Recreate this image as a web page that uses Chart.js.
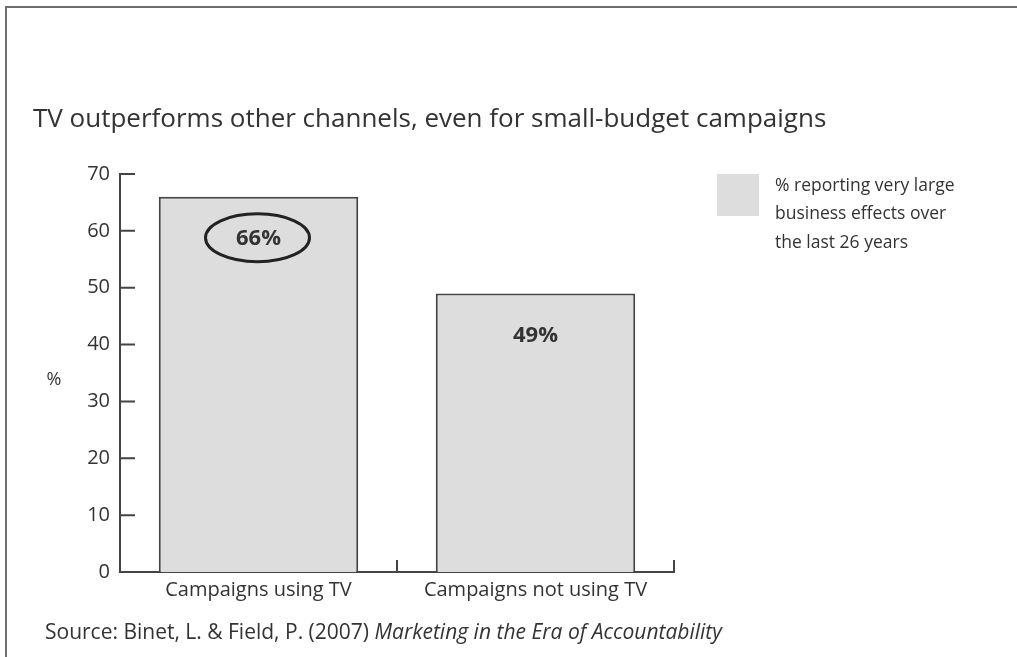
<!DOCTYPE html>
<html>
<head>
<meta charset="utf-8">
<script src="https://cdn.jsdelivr.net/npm/chart.js@4.4.0/dist/chart.umd.min.js"></script>
<style>
  html, body { margin: 0; padding: 0; background: #fff; }
  #wrap { width: 1017px; height: 657px; position: relative; }
</style>
</head>
<body>
<div id="wrap"><canvas id="tvChart" width="1017" height="657"></canvas></div>
<script>
const categories = ['Campaigns using TV', 'Campaigns not using TV'];
const values = [66, 49];
const seriesLabel = ['% reporting very large', 'business effects over', 'the last 26 years'];
const yMin = 0;
const yMax = 70;
const yStep = 10;
const titleText = 'TV outperforms other channels, even for small-budget campaigns';
const sourceText = 'Source: Binet, L. & Field, P. (2007) ';
const sourceBook = 'Marketing in the Era of Accountability';

const FONT = '"Open Sans", "Noto Sans", sans-serif';
const INK = '#333';
const BAR_FILL = '#dddddd';

// everything drawn on top of the bars: frame, title, ticks, labels, legend, source
const decorations = {
  id: 'decorations',
  afterDraw(chart) {
    const ctx = chart.ctx;
    const x = chart.scales.x;
    const y = chart.scales.y;
    ctx.save();

    // page frame
    ctx.strokeStyle = '#6e6e6e';
    ctx.lineWidth = 2;
    ctx.beginPath();
    ctx.moveTo(6, 660);
    ctx.lineTo(6, 7);
    ctx.lineTo(1020, 7);
    ctx.stroke();

    // title
    ctx.fillStyle = INK;
    ctx.font = '26px ' + FONT;
    ctx.textAlign = 'left';
    ctx.textBaseline = 'middle';
    ctx.fillText(titleText, 33, 120);

    // inward tick marks
    ctx.strokeStyle = '#444';
    ctx.lineWidth = 2;
    ctx.beginPath();
    y.ticks.forEach(t => {
      const py = y.getPixelForValue(t.value);
      ctx.moveTo(y.right, py);
      ctx.lineTo(y.right + 15, py);
    });
    [0.5, 1.5].forEach(v => {
      const px = x.getPixelForValue(v);
      ctx.moveTo(px, x.top);
      ctx.lineTo(px, x.top - 12);
    });
    ctx.stroke();

    // axis unit
    ctx.font = '18px ' + FONT;
    ctx.textAlign = 'center';
    ctx.fillText('%', 54, 380);

    // value labels inside the bars
    const meta = chart.getDatasetMeta(0);
    ctx.font = 'bold 22px ' + FONT;
    meta.data.forEach((bar, i) => {
      const cy = bar.y + 42;
      ctx.fillText(values[i] + '%', bar.x, cy);
      if (i === 0) {
        ctx.lineWidth = 3;
        ctx.strokeStyle = '#222';
        ctx.beginPath();
        ctx.ellipse(bar.x - 1, cy - 1, 52, 24, 0, 0, Math.PI * 2);
        ctx.stroke();
      }
    });

    // legend
    ctx.fillStyle = BAR_FILL;
    ctx.fillRect(717, 174, 42, 42);
    ctx.fillStyle = INK;
    ctx.font = '17.5px ' + FONT;
    ctx.textAlign = 'left';
    seriesLabel.forEach((line, i) => ctx.fillText(line, 775, 186 + i * 28.5));

    // source line
    ctx.font = '21px ' + FONT;
    ctx.fillText(sourceText, 45, 633);
    const w = ctx.measureText(sourceText).width;
    ctx.font = 'italic 21px ' + FONT;
    ctx.fillText(sourceBook, 45 + w, 633);

    ctx.restore();
  }
};

new Chart(document.getElementById('tvChart'), {
  type: 'bar',
  data: {
    labels: categories,
    datasets: [{
      label: seriesLabel.join(' '),
      data: values,
      backgroundColor: BAR_FILL,
      borderColor: '#444',
      borderWidth: 2,
      categoryPercentage: 0.9,
      barPercentage: 0.8
    }]
  },
  options: {
    responsive: false,
    animation: false,
    layout: { padding: { left: 60, right: 343, top: 174, bottom: 45 } },
    plugins: {
      legend: { display: false },
      title: { display: false },
      tooltip: { enabled: false }
    },
    scales: {
      x: {
        grid: { display: false },
        border: { display: true, color: '#444', width: 2 },
        ticks: { color: INK, font: { family: FONT, size: 20 }, padding: -2 },
        afterFit(scale) { scale.height = 40; }
      },
      y: {
        min: yMin,
        max: yMax,
        grid: { display: false, drawTicks: false },
        border: { display: true, color: '#444', width: 2 },
        ticks: { stepSize: yStep, color: INK, font: { family: FONT, size: 20 }, padding: 10 },
        afterFit(scale) { scale.width = 60; }
      }
    }
  },
  plugins: [decorations]
});
</script>
</body>
</html>
